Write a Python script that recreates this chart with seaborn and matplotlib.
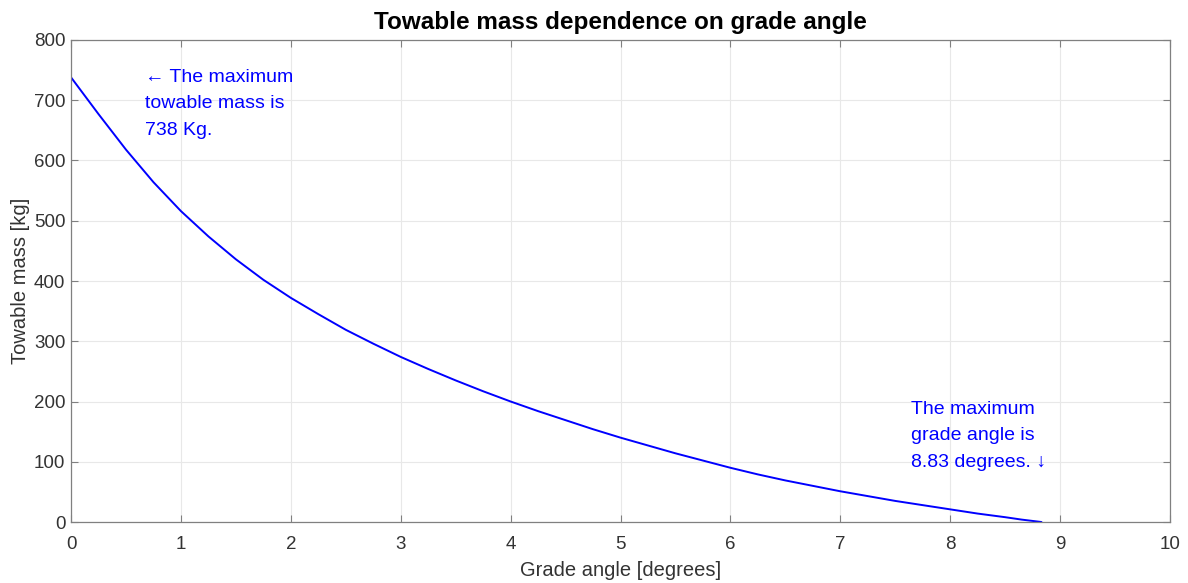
import numpy as np
import pandas as pd
import matplotlib
matplotlib.use("Agg")
import matplotlib.pyplot as plt
import seaborn as sns

# values
grade_angle = [0.0, 0.25, 0.5, 0.75, 1.0, 1.25, 1.5, 1.75, 2.0, 2.25, 2.5, 2.75,
               3.0, 3.25, 3.5, 3.75, 4.0, 4.25, 4.5, 4.75, 5.0, 5.25, 5.5, 5.75,
               6.0, 6.25, 6.5, 6.75, 7.0, 7.25, 7.5, 7.75, 8.0, 8.25, 8.5, 8.65, 8.83]
towable_mass = [738, 677, 618, 564, 516, 474, 436, 402, 372, 345, 319, 296,
                274, 254, 235, 217, 200, 184, 169, 154, 140, 127, 114, 102,
                90, 79, 69, 60, 51, 43, 35, 28, 21, 14, 8, 4, 0]

x_ticks = list(range(0, 11))
y_ticks = list(range(0, 801, 100))

sns.set_theme(style="whitegrid")
plt.rcParams["font.family"] = ["Liberation Sans", "DejaVu Sans"]

df = pd.DataFrame({"angle": grade_angle, "mass": towable_mass})

fig = plt.figure(figsize=(11.88, 5.83), dpi=100)
ax = fig.add_axes([0.0598, 0.1046, 0.9251, 0.8268])

sns.lineplot(data=df, x="angle", y="mass", ax=ax, color="#0000ff", linewidth=1.4)

ax.set_xlim(0, 10)
ax.set_ylim(0, 800)
ax.set_xticks(x_ticks)
ax.set_yticks(y_ticks)
ax.tick_params(axis="both", labelsize=13.5, labelcolor="#333333", color="#808080",
               direction="in", length=5, width=0.8,
               top=True, right=True, bottom=True, left=True)
ax.tick_params(axis="x", pad=10)
ax.tick_params(axis="y", pad=4)
ax.grid(True, color="#e8e8e8", linewidth=0.8)
for s in ax.spines.values():
    s.set_color("#808080")
    s.set_linewidth(0.9)

ax.set_xlabel("Grade angle [degrees]", fontsize=14.5, color="#333333", labelpad=6)
ax.set_ylabel("Towable mass [kg]", fontsize=14.5, color="#333333", labelpad=3)
ax.set_title("Towable mass dependence on grade angle", fontsize=17.5,
             fontweight="bold", color="black", pad=8)

ax.text(0.67, 752, "\u2190 The maximum\ntowable mass is\n738 Kg.", color="#0000ff",
        fontsize=14, va="top", ha="left", linespacing=1.72)
ax.text(7.64, 201, "The maximum\ngrade angle is\n8.83 degrees. \u2193", color="#0000ff",
        fontsize=14, va="top", ha="left", linespacing=1.72)

plt.savefig("out.png", dpi=100)
